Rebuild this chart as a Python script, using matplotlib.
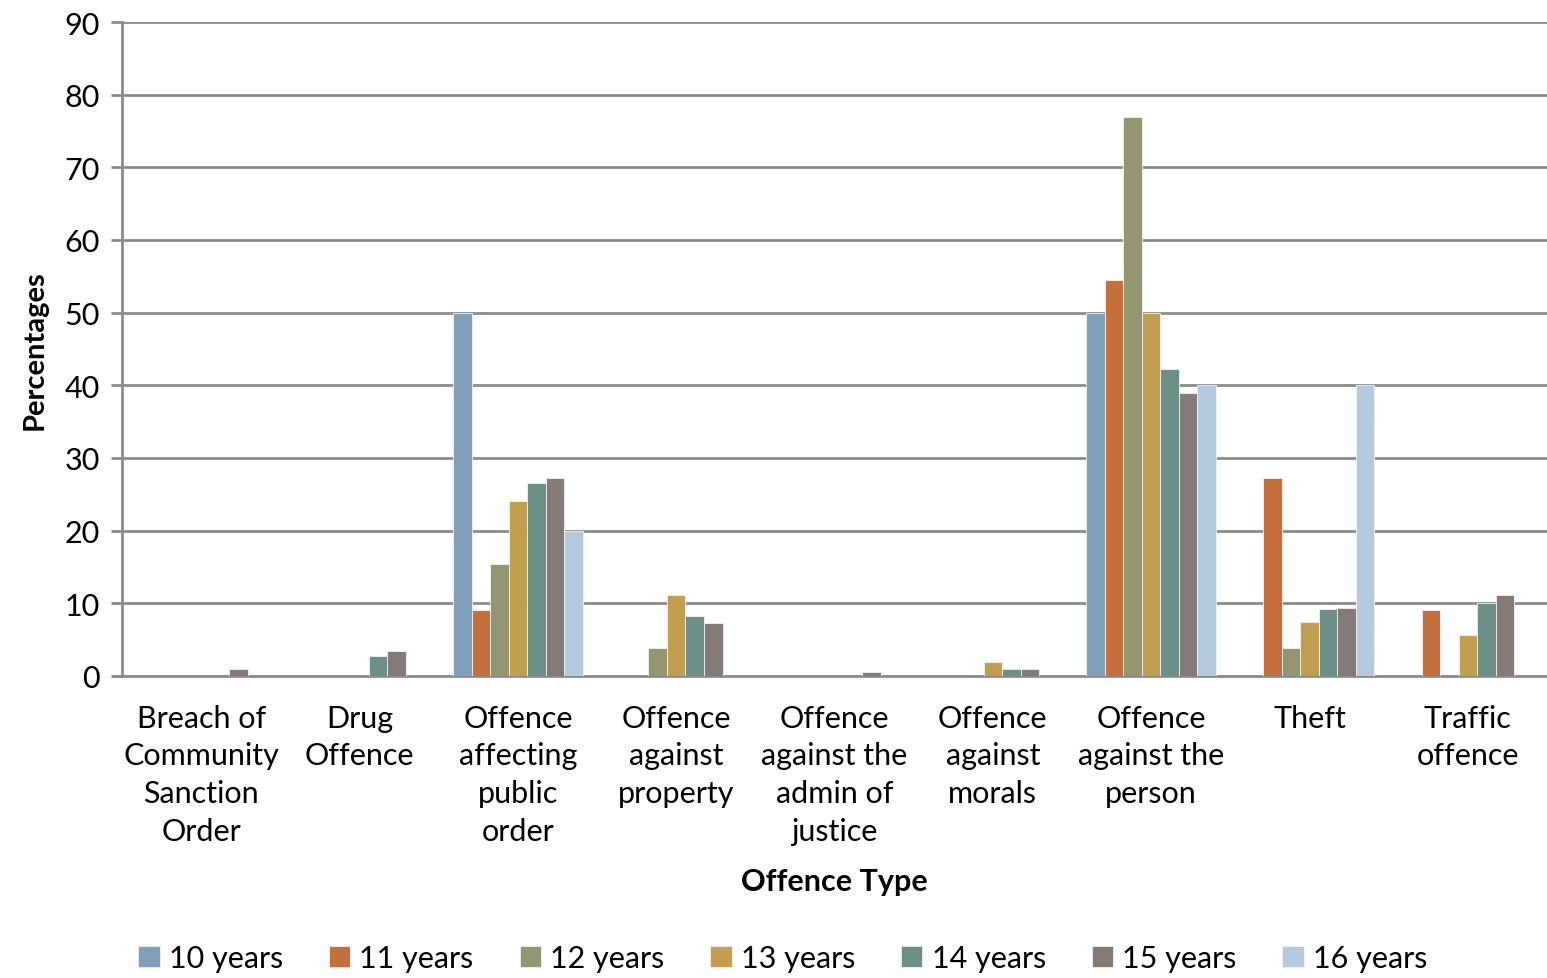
import matplotlib.pyplot as plt
import numpy as np

plt.rcParams['font.family'] = ['Lato', 'DejaVu Sans']

categories = ['Breach of\nCommunity\nSanction\nOrder', 'Drug\nOffence', 'Offence\naffecting\npublic\norder',
              'Offence\nagainst\nproperty', 'Offence\nagainst the\nadmin of\njustice', 'Offence\nagainst\nmorals',
              'Offence\nagainst the\nperson', 'Theft', 'Traffic\noffence']
series_names = ['10 years', '11 years', '12 years', '13 years', '14 years', '15 years', '16 years']
y10 = [0, 0, 50, 0, 0, 0, 50, 0, 0]
y11 = [0, 0, 9.1, 0, 0, 0, 54.5, 27.3, 9.1]
y12 = [0, 0, 15.4, 3.8, 0, 0, 76.9, 3.8, 0]
y13 = [0, 0, 24.1, 11.1, 0, 1.9, 50, 7.4, 5.6]
y14 = [0, 2.7, 26.6, 8.3, 0, 0.9, 42.2, 9.2, 10.1]
y15 = [1.0, 3.4, 27.3, 7.3, 0.5, 1.0, 39.0, 9.3, 11.2]
y16 = [0, 0, 20, 0, 0, 0, 40, 40, 0]
colors = ['#7F9FBA', '#C5703C', '#939670', '#C19E50', '#6A9088', '#847A78', '#B4CADE']

data = [y10, y11, y12, y13, y14, y15, y16]

fig = plt.figure(figsize=(15.47, 9.79), dpi=100)
ax = fig.add_axes([0.0789, 0.3085, 0.9211, 0.668])

x = np.arange(len(categories))
w = 0.117
for i, vals in enumerate(data):
    ax.bar(x + (i - 3) * w, vals, w, color=colors[i], edgecolor='#f2f2f2', linewidth=0.6,
           label=series_names[i], zorder=3)

ax.set_xlim(-0.5, len(categories) - 0.5)
ax.set_ylim(0, 90)
ax.set_yticks(range(0, 91, 10))
ax.yaxis.grid(True, color='#8c8c8c', linewidth=2, zorder=0)
ax.set_xticks(x)
ax.set_xticklabels(categories, fontsize=22, linespacing=1.42)
ax.tick_params(axis='x', length=0, pad=20)
ax.tick_params(axis='y', labelsize=22, length=8, width=2, color='#8c8c8c', pad=8)
for s in ['top', 'right']:
    ax.spines[s].set_visible(False)
for s in ['left', 'bottom']:
    ax.spines[s].set_color('#8c8c8c')
    ax.spines[s].set_linewidth(2)

ax.set_ylabel('Percentages', fontsize=21, fontweight='bold', labelpad=12)
ax.set_xlabel('Offence Type', fontsize=22, fontweight='bold', labelpad=16)

fig.legend(loc='lower center', bbox_to_anchor=(0.506, -0.022), ncol=7, frameon=False, fontsize=22,
           handlelength=0.7, handleheight=0.7, handletextpad=0.3, columnspacing=1.5)

plt.savefig('out.png', dpi=100)
